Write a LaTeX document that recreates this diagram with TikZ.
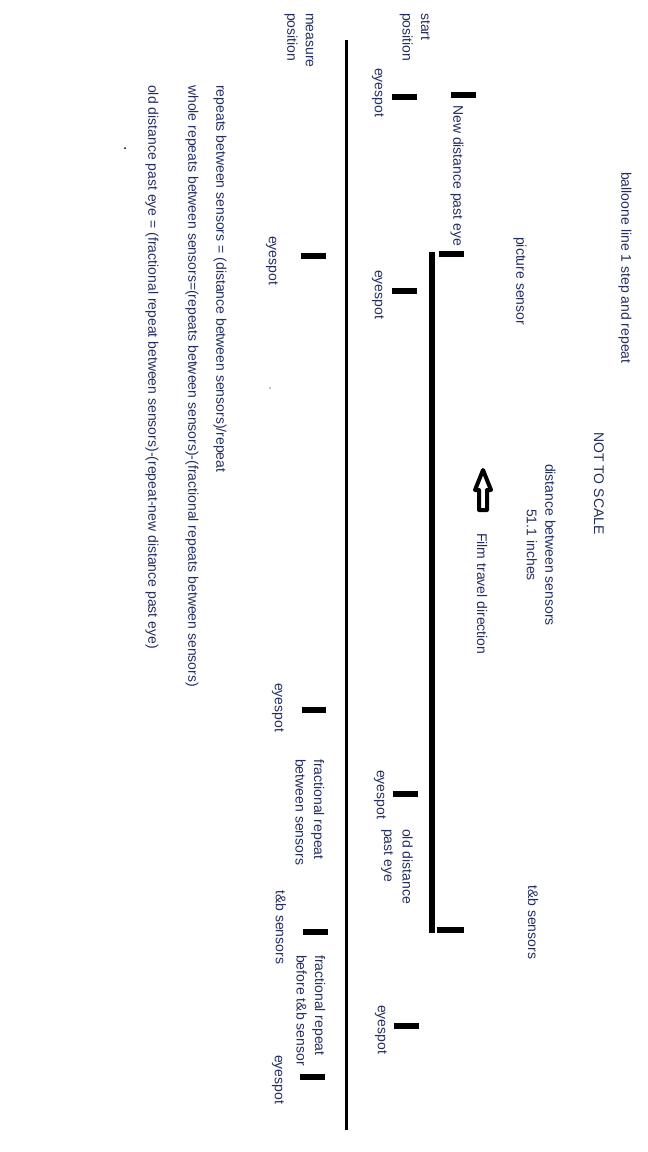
\documentclass[tikz,border=0pt]{standalone}
\usepackage{fontspec}
\setmainfont{Liberation Sans}
\definecolor{labelink}{RGB}{35,45,95}
\tikzset{
  lbl/.style={rotate=-90, anchor=west, inner sep=0pt, align=left,
    text=labelink, font=\fontsize{14}{18.5}\selectfont},
  bar/.style={line width=6pt},
}

\begin{document}
\begin{tikzpicture}[x=1pt,y=-1pt]
    \useasboundingbox (0,0) rectangle (648,1152);

    % film lines
    \draw[line width=3pt] (346,40) -- (346,1130);
    \draw[line width=6pt] (432,252) -- (432,933);

    % sensor marks
    \draw[bar] (392,97) -- (417,97);
    \draw[bar] (451,95) -- (476,95);
    \draw[bar] (439,254) -- (464,254);
    \draw[bar] (301,256) -- (326,256);
    \draw[bar] (392,291) -- (417,291);
    \draw[bar] (302,710) -- (326,710);
    \draw[bar] (393,794) -- (418,794);
    \draw[bar] (437,930) -- (464,930);
    \draw[bar] (303,932) -- (328,932);
    \draw[bar] (394,1026) -- (419,1026);
    \draw[bar] (300,1077) -- (325,1077);

    % film travel arrow
    \draw[line width=4pt, line join=round]
      (483,470) -- (491,490) -- (487,490) -- (487,510)
      -- (479,510) -- (479,490) -- (475,490) -- cycle;

    % specks
    \fill (125,148) circle (1pt);
    \fill (270,388) circle (0.6pt);

    \begin{scope}[every node/.style={lbl}]
      \node (title) at (625,172) {balloone line 1 step and repeat};
      \node (notscale) at (599,432) {NOT TO SCALE};
      \node (picsensor) at (520,237) {picture sensor};
      \node[anchor=center, align=center] (distsens) at (541,545)
        {distance between sensors\\51.1 inches};
      \node (filmdir) at (482,533) {Film travel direction};
      \node (tbright) at (533,885) {t\&b sensors};

      \node (startpos) at (415,13) {start\\position};
      \node (newdist) at (457,105) {New distance past eye};
      \node (eyea) at (378,68) {eyespot};
      \node (eyeb) at (378,270) {eyespot};
      \node (eyec) at (380,770) {eyespot};
      \node (olddist) at (397,829) {old distance\\past eye};
      \node (eyed) at (381,1005) {eyespot};

      \node (measurepos) at (299,13) {measure\\position};
      \node (eyee) at (272,236) {eyespot};
      \node (eyef) at (278,683) {eyespot};
      \node (fracbetween) at (310,759) {fractional repeat\\between sensors};
      \node (tbleft) at (281,890) {t\&b sensors};
      \node (fracbefore) at (311,955) {fractional repeat\\before t\&b sensor};
      \node (eyeg) at (278,1055) {eyespot};

      \node (eqrep) at (220,85)
        {repeats between sensors = (distance between sensors)/repeat};
      \node (eqwhole) at (192,85)
        {whole repeats between sensors=(repeats between sensors)-(fractional repeats between sensors)};
      \node (eqold) at (152,85)
        {old distance past eye = (fractional repeat between sensors)-(repeat-new distance past eye)};
    \end{scope}
\end{tikzpicture}
\end{document}
